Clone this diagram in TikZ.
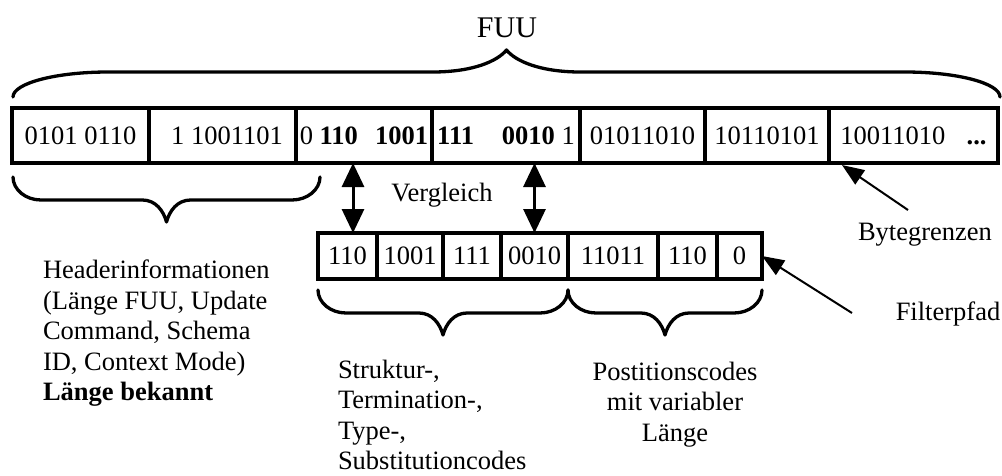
\documentclass[tikz,border=0pt]{standalone}
\usepackage{fontspec}
\setmainfont{Liberation Serif}
\usetikzlibrary{arrows.meta}

% curly brace: #1 left x, #2 right x, #3 end y, #4 bar y, #5 tip y,
% #6 horizontal run of the end curves, #7 horizontal run of the tip curves
\newcommand{\curlybrace}[7]{%
  \pgfmathsetmacro{\bracemid}{(#1+#2)/2}%
  \draw[bracestroke]
    (#1,#3) .. controls (#1,{#3+0.55*(#4-#3)}) and ({#1+0.45*#6},#4) .. ({#1+#6},#4)
    -- ({\bracemid-#7},#4)
    .. controls ({\bracemid-0.45*#7},#4) and ({\bracemid-0.12*#7},{#4+0.5*(#5-#4)}) .. (\bracemid,#5)
    .. controls ({\bracemid+0.12*#7},{#4+0.5*(#5-#4)}) and ({\bracemid+0.45*#7},#4) .. ({\bracemid+#7},#4)
    -- ({#2-#6},#4)
    .. controls ({#2-0.45*#6},#4) and (#2,{#3+0.55*(#4-#3)}) .. (#2,#3);
}

\tikzset{
  txt/.style={font=\fontsize{26.5}{30.5}\selectfont, inner sep=0pt, outer sep=0pt},
  cell/.style={draw, line width=3.5pt, inner sep=0pt, outer sep=0pt,
    minimum height=55pt, font=\fontsize{26.5}{30}\selectfont},
  subcell/.style={draw, line width=3.2pt, inner sep=0pt, outer sep=0pt,
    minimum height=46pt, font=\fontsize{26.5}{30}\selectfont},
  cmp/.style={line width=3pt,
    {Triangle[length=24pt,width=22pt]}-{Triangle[length=24pt,width=22pt]}},
  pointer/.style={line width=2pt, -{Triangle[length=22pt,width=17pt]}},
  bracestroke/.style={line width=3.3pt, line cap=round, line join=round}
}

\begin{document}
\begin{tikzpicture}[x=1pt,y=-1pt]
  \fill[white] (0,0) rectangle (1002,475);
  \useasboundingbox (0,0) rectangle (1002,475);

  % title and top brace
  \node[txt, font=\fontsize{30}{34}\selectfont, anchor=base] (fuu) at (507,37) {FUU};
  \curlybrace{13}{1000}{97}{72}{50}{95}{74}

  % bit stream of the FUU
  \node[cell, minimum width=137pt] (t1) at (80.5,135.5) {0101 0110};
  \node[cell, minimum width=147pt] (t2) at (222.5,135.5) {\hspace{9pt}1 1001101};
  \node[cell, minimum width=136pt] (t3) at (364,135.5) {0 \textbf{110}\hspace{0.65em}\textbf{1001}};
  \node[cell, minimum width=148pt] (t4) at (506,135.5) {\textbf{111}\hspace{1.05em}\textbf{0010} 1};
  \node[cell, minimum width=125pt] (t5) at (642.5,135.5) {01011010};
  \node[cell, minimum width=124pt] (t6) at (767,135.5) {10110101\hspace{12pt}};
  \node[cell, minimum width=169pt] (t7) at (913.5,135.5) {10011010\hspace{0.8em}\textbf{...}};

  % header brace and description
  \curlybrace{13}{320}{177}{200}{222}{28}{24}
  \node[txt, align=left, anchor=north west] (hdr) at (43,260)
    {Headerinformationen\\(Länge FUU, Update\\Command, Schema\\ID, Context Mode)\\\textbf{Länge bekannt}};

  % filter path
  \node[subcell, minimum width=59pt] (l1) at (347.5,256) {110};
  \node[subcell, minimum width=66pt] (l2) at (410,256) {1001};
  \node[subcell, minimum width=58pt] (l3) at (472,256) {111};
  \node[subcell, minimum width=67pt] (l4) at (534.5,256) {0010};
  \node[subcell, minimum width=90pt] (l5) at (613,256) {11011};
  \node[subcell, minimum width=59pt] (l6) at (687.5,256) {110};
  \node[subcell, minimum width=45pt] (l7) at (739.5,256) {0};

  % comparison
  \node[txt, anchor=base] (cmplabel) at (442,201) {Vergleich};
  \draw[cmp] ([xshift=5.5pt]l1.north) -- ([xshift=5.5pt]l1.north |- t3.south);
  \draw[cmp] (l4.north) -- (l4.north |- t4.south);

  % byte boundaries
  \node[txt, anchor=base] (bytes) at (925,240) {Bytegrenzen};
  \coordinate (bytestail) at (908,210);
  \draw[pointer] (bytestail) -- ([xshift=13pt,yshift=-2pt]t7.south west);

  % filter path label
  \node[txt, anchor=base] (fpath) at (948,320) {Filterpfad};
  \coordinate (fpathtail) at (852,313);
  \draw[pointer] (fpathtail) -- (l7.east);

  % braces under the filter path
  \curlybrace{318}{568}{290}{313}{335}{28}{24}
  \curlybrace{568}{762}{290}{313}{335}{28}{24}
  \node[txt, align=left, anchor=north west] (codes) at (338,360)
    {Struktur-,\\Termination-,\\Type-,\\Substitutioncodes};
  \node[txt, align=center, anchor=north] (poscodes) at (675,362)
    {Postitionscodes\\mit variabler\\Länge};
\end{tikzpicture}
\end{document}
